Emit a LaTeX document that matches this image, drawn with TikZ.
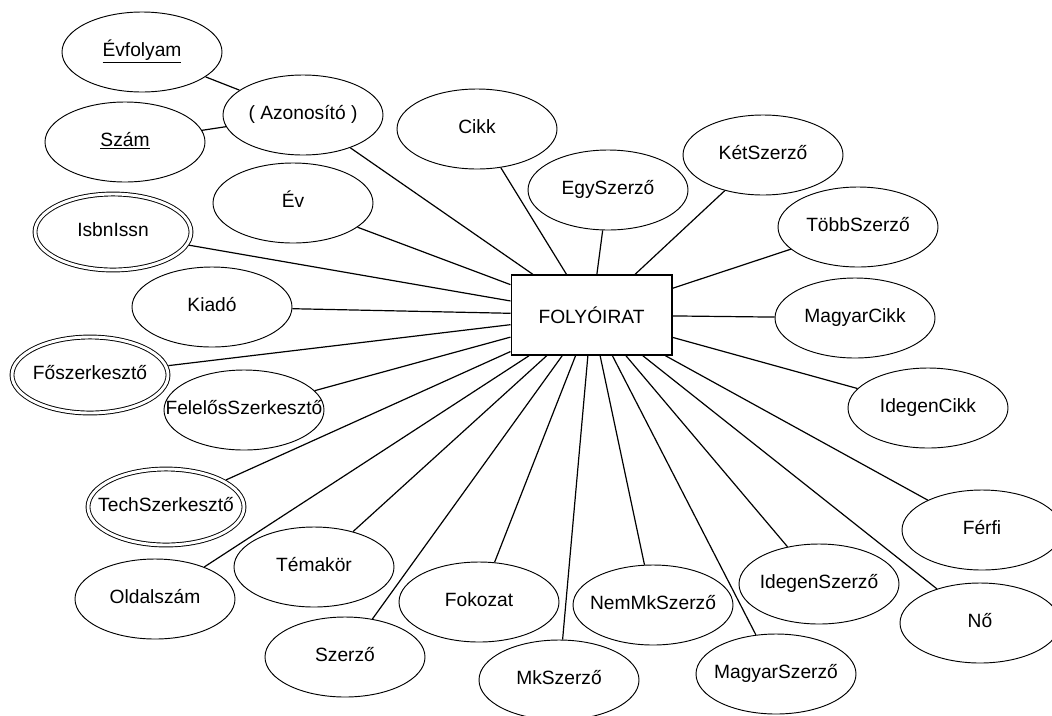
\documentclass[tikz,border=0pt]{standalone}
\usepackage{fontspec}
\setmainfont{Liberation Sans}
\usetikzlibrary{shapes.geometric,positioning}

% felirat szelesseg nelkul, hogy az ellipszis ne nojon
\newcommand{\mezo}[1]{\makebox[0pt]{#1}}

\begin{document}
\begin{tikzpicture}[x=0.75pt,y=-0.75pt,
      attr/.style={ellipse, draw=black, line width=0.7pt, inner sep=0pt, minimum width=120pt, minimum height=60pt, text height=10pt, text depth=3pt, font=\fontsize{14.4}{16}\selectfont},
      tobb/.style={attr, double, double distance=2.2pt, minimum width=117pt, minimum height=57pt, outer sep=1.9pt},
      egyed/.style={rectangle, draw=black, line width=1pt, minimum width=120.5pt, minimum height=60pt, font=\fontsize{14.4}{16}\selectfont},
      vonal/.style={line width=0.9pt}]

\useasboundingbox (0,0) rectangle (1052,715);

\node[egyed] (fo) at (591.5,315) {FOLYÓIRAT};

\node[attr] (evf) at (142,52) {\mezo{\underline{Évfolyam}}};
\node[attr] (azon) at (303,115) {\mezo{( Azonosító )}};
\node[attr] (szam) at (125,142) {\mezo{\underline{Szám}}};
\node[attr] (ev) at (293,203) {\mezo{Év}};
\node[tobb] (isbn) at (113,232) {\mezo{IsbnIssn}};
\node[attr] (cikk) at (477,129) {\mezo{Cikk}};
\node[attr] (egy) at (608,190) {\mezo{EgySzerző}};
\node[attr] (ket) at (763,155) {\mezo{KétSzerző}};
\node[attr] (tobbsz) at (858,227) {\mezo{TöbbSzerző}};
\node[attr] (mcikk) at (855,318) {\mezo{MagyarCikk}};
\node[attr] (icikk) at (928,408) {\mezo{IdegenCikk}};
\node[attr] (kiado) at (212,307) {\mezo{Kiadó}};
\node[tobb] (fosz) at (90,375) {\mezo{Főszerkesztő}};
\node[attr] (felsz) at (244,410) {\mezo{FelelősSzerkesztő}};
\node[tobb] (techsz) at (166,507) {\mezo{TechSzerkesztő}};
\node[attr] (temakor) at (314,567) {\mezo{Témakör}};
\node[attr] (oldal) at (155,599) {\mezo{Oldalszám}};
\node[attr] (szerzo) at (345,657) {\mezo{Szerző}};
\node[attr] (fokozat) at (479,602) {\mezo{Fokozat}};
\node[attr] (mksz) at (559,680) {\mezo{MkSzerző}};
\node[attr] (nemmk) at (653,605) {\mezo{NemMkSzerző}};
\node[attr] (idsz) at (819,584) {\mezo{IdegenSzerző}};
\node[attr] (masz) at (776,674) {\mezo{MagyarSzerző}};
\node[attr] (ferfi) at (982,530) {\mezo{Férfi}};
\node[attr] (no) at (980,623) {\mezo{Nő}};

% osszetett kulcs
\draw[vonal] (evf) -- (azon);
\draw[vonal] (szam) -- (azon);

% tulajdonsagok
\draw[vonal] (fo) -- (azon);
\draw[vonal] (fo) -- (ev);
\draw[vonal] (fo) -- (isbn);
\draw[vonal] (fo) -- (cikk);
\draw[vonal] (fo) -- (egy);
\draw[vonal] (fo) -- (ket);
\draw[vonal] (fo) -- (tobbsz);
\draw[vonal] (fo) -- (mcikk);
\draw[vonal] (fo) -- (icikk);
\draw[vonal] (fo) -- (kiado);
\draw[vonal] (fo) -- (fosz);
\draw[vonal] (fo) -- (felsz);
\draw[vonal] (fo) -- (techsz);
\draw[vonal] (fo) -- (temakor);
\draw[vonal] (fo) -- (oldal);
\draw[vonal] (fo) -- (szerzo);
\draw[vonal] (fo) -- (fokozat);
\draw[vonal] (fo) -- (mksz);
\draw[vonal] (fo) -- (nemmk);
\draw[vonal] (fo) -- (idsz);
\draw[vonal] (fo) -- (masz);
\draw[vonal] (fo) -- (ferfi);
\draw[vonal] (fo) -- (no);

\end{tikzpicture}
\end{document}
